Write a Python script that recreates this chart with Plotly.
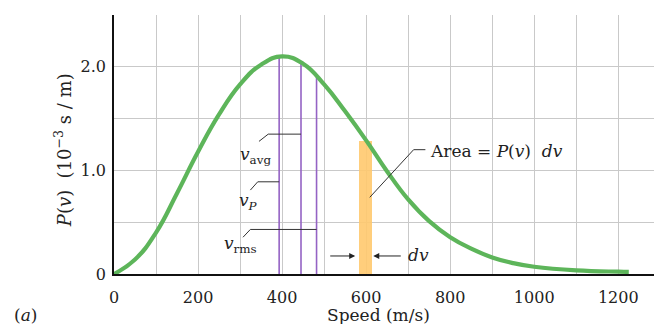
import plotly.graph_objects as go

# ---- data ----
speed = [0, 50, 100, 150, 200, 250, 300, 350, 400, 450, 500, 550, 600, 650,
         700, 750, 800, 850, 900, 950, 1000, 1100, 1200, 1225]
prob = [0, 0.14, 0.40, 0.78, 1.18, 1.54, 1.83, 2.02, 2.10, 2.03, 1.83, 1.57, 1.29, 0.99,
        0.72, 0.51, 0.355, 0.245, 0.16, 0.105, 0.07, 0.035, 0.022, 0.02]

char_speeds = [393, 445, 482]          # v_P, v_avg, v_rms
char_heights = [2.10, 2.04, 1.90]
char_labels = ["<i>v</i><sub><i>P</i></sub>", "<i>v</i><sub>avg</sub>", "<i>v</i><sub>rms</sub>"]

strip_center = [598]
strip_width = [31]
strip_height = [1.28]

x_ticks = [0, 200, 400, 600, 800, 1000, 1200]
y_ticks = [0, 1.0, 2.0]
y_ticktext = ["0", "1.0", "2.0"]

FONT = "DejaVu Serif"
GREEN = "#5DB55A"
PURPLE = "#9463C4"
ORANGE = "#FFC96E"
DARK = "#333333"

fig = go.Figure()

# orange strip
fig.add_trace(go.Bar(x=strip_center, y=strip_height, width=strip_width,
                     marker=dict(color=ORANGE, line=dict(width=0)), opacity=0.9,
                     showlegend=False, hoverinfo="skip"))

# characteristic speed lines
for v, h in zip(char_speeds, char_heights):
    fig.add_trace(go.Scatter(x=[v, v], y=[0, h], mode="lines",
                             line=dict(color=PURPLE, width=1.6),
                             showlegend=False, hoverinfo="skip"))

# distribution curve
fig.add_trace(go.Scatter(x=speed, y=prob, mode="lines",
                         line=dict(color=GREEN, width=4.2, shape="spline", smoothing=1.3),
                         showlegend=False))

# leader lines (data coords)
leaders = [
    [(324.5, 0.81), (342, 0.89), (char_speeds[0], 0.89)],
    [(345, 1.28), (367, 1.35), (char_speeds[1], 1.35)],
    [(307, 0.355), (324.5, 0.43), (char_speeds[2], 0.43)],
    [(608.6, 0.74), (713, 1.20), (741, 1.20)],
]
for pts in leaders:
    path = "M " + " L ".join(f"{x},{y}" for x, y in pts)
    fig.add_shape(type="path", path=path, xref="x", yref="y",
                  line=dict(color=DARK, width=1))

label_pos = [(320, 0.70), (336, 1.14), (302, 0.28)]
for (x, y), t in zip(label_pos, char_labels):
    fig.add_annotation(x=x, y=y, xref="x", yref="y", text=t, showarrow=False,
                       xanchor="center", yanchor="middle",
                       font=dict(family=FONT, size=17, color="#222"))

fig.add_annotation(x=748, y=1.19, xref="x", yref="y", xanchor="left", yanchor="middle",
                   text="Area = <i>P</i>(<i>v</i>)  <i>dv</i>", showarrow=False,
                   font=dict(family=FONT, size=17, color="#222"))

# dv arrows
fig.add_annotation(x=574, y=0.174, ax=511, ay=0.174, xref="x", yref="y", axref="x", ayref="y",
                   text="", showarrow=True, arrowhead=2, arrowsize=1.2, arrowwidth=1, arrowcolor="#222")
fig.add_annotation(x=617, y=0.174, ax=686, ay=0.174, xref="x", yref="y", axref="x", ayref="y",
                   text="", showarrow=True, arrowhead=2, arrowsize=1.2, arrowwidth=1, arrowcolor="#222")
fig.add_annotation(x=725, y=0.18, xref="x", yref="y", text="<i>dv</i>", showarrow=False,
                   xanchor="center", yanchor="middle",
                   font=dict(family=FONT, size=17, color="#222"))

# titles
fig.add_annotation(x=-0.094, y=0.479, xref="paper", yref="paper", textangle=-90,
                   xanchor="center", yanchor="middle",
                   text="<i>P</i>(<i>v</i>)&nbsp;&nbsp;(10<sup>−3</sup>&nbsp;s&nbsp;/&nbsp;m)", showarrow=False,
                   font=dict(family=FONT, size=18, color="#222"))
fig.add_annotation(x=0.489, y=-0.157, xref="paper", yref="paper",
                   xanchor="center", yanchor="middle",
                   text="Speed (m/s)", showarrow=False,
                   font=dict(family=FONT, size=17, color="#222"))
fig.add_annotation(x=-0.163, y=-0.157, xref="paper", yref="paper",
                   xanchor="center", yanchor="middle",
                   text="(<i>a</i>)", showarrow=False,
                   font=dict(family=FONT, size=17, color="#222"))

grid = "#C9C9C9"
fig.update_xaxes(range=[0, 1285], tickvals=x_ticks, ticks="", showgrid=True, gridcolor=grid,
                 gridwidth=1.3, minor=dict(dtick=100, tick0=0, showgrid=True, gridcolor=grid, gridwidth=1.3),
                 showline=True, linecolor="#111", linewidth=1.6, zeroline=False, automargin=False,
                 tickfont=dict(family=FONT, size=16, color="#222"), ticklabelstandoff=8)
fig.update_yaxes(range=[0, 2.5], tickvals=y_ticks, ticktext=y_ticktext, ticks="", showgrid=True,
                 gridcolor=grid, gridwidth=1.3,
                 minor=dict(dtick=0.5, tick0=0, showgrid=True, gridcolor=grid, gridwidth=1.3),
                 showline=True, linecolor="#111", linewidth=1.6, zeroline=False, automargin=False,
                 tickfont=dict(family=FONT, size=16, color="#222"), ticklabelstandoff=3)

fig.update_layout(width=654, height=324, margin=dict(l=114, r=0, t=15, b=50, autoexpand=False),
                  plot_bgcolor="white", paper_bgcolor="white", bargap=0)

fig.write_html("out.html", config={"displayModeBar": False},
               post_script="document.body.style.margin='0';")
